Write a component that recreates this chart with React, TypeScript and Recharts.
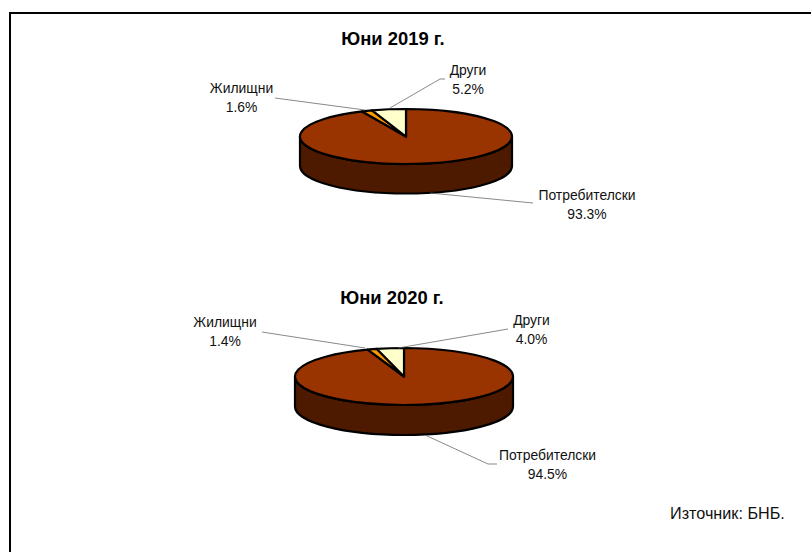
import { PieChart, Pie, Cell } from "recharts";

const categories = ["Потребителски", "Жилищни", "Други"];
const shares2019 = [93.3, 1.6, 5.2];
const shares2020 = [94.5, 1.4, 4.0];
const colors = ["#993300", "#ff9900", "#ffffcc"];

const FONT = "'Liberation Sans', Arial, sans-serif";
const WALL = "#4d1a00";

// label boxes and leader lines, same order as categories
const labels2019 = [
  { x: 587, y: 195, line: "430,193 533,203" },
  { x: 241.5, y: 88, line: "365,110 275,98" },
  { x: 468, y: 70, line: "390,108 440,79 445,79" },
];
const labels2020 = [
  { x: 547.5, y: 455, line: "425,435 488,464 497,464" },
  { x: 225, y: 322, line: "365,348 262,332" },
  { x: 531.5, y: 320, line: "398,348 508,329" },
];

function toRows(values: number[]) {
  return categories.map((name, i) => ({ name, value: values[i] }));
}

function point(cx: number, cy: number, rx: number, ry: number, deg: number) {
  const a = (deg * Math.PI) / 180;
  return [cx + rx * Math.cos(a), cy - ry * Math.sin(a)];
}

// flattened sector with a side wall on the part that faces the viewer
function tiltedSector(ry: number, depth: number) {
  return (props: any) => {
    const { cx, cy, outerRadius: rx, startAngle, endAngle, fill } = props;
    const [sx, sy] = point(cx, cy, rx, ry, startAngle);
    const [ex, ey] = point(cx, cy, rx, ry, endAngle);
    const large = Math.abs(startAngle - endAngle) > 180 ? 1 : 0;
    const from = Math.min(startAngle, 0);
    const to = Math.max(endAngle, -180);
    let wall = null;
    if (from > to) {
      const [ax, ay] = point(cx, cy, rx, ry, from);
      const [bx, by] = point(cx, cy, rx, ry, to);
      wall = (
        <path
          d={`M${ax},${ay} A${rx},${ry} 0 0 1 ${bx},${by} L${bx},${by + depth} A${rx},${ry} 0 0 0 ${ax},${ay + depth} Z`}
          fill={WALL}
          stroke="#000"
          strokeWidth={2.2}
          strokeLinejoin="round"
        />
      );
    }
    return (
      <g>
        {wall}
        <path
          d={`M${cx},${cy} L${sx},${sy} A${rx},${ry} 0 ${large} 1 ${ex},${ey} Z`}
          fill={fill}
          stroke="#000"
          strokeWidth={2.2}
          strokeLinejoin="round"
        />
      </g>
    );
  };
}

function leaderLabel(spots: { x: number; y: number; line: string }[]) {
  return (props: any) => {
    const spot = spots[props.index];
    return (
      <g key={props.index}>
        <polyline points={spot.line} fill="none" stroke="#6b6b6b" strokeWidth={0.8} />
        <text x={spot.x} y={spot.y + 5} textAnchor="middle" fontSize={13.9} fontFamily={FONT} fill="#111">
          {categories[props.index]}
        </text>
        <text x={spot.x} y={spot.y + 23.5} textAnchor="middle" fontSize={13.9} fontFamily={FONT} fill="#111">
          {props.value.toFixed(1)}%
        </text>
      </g>
    );
  };
}

const titleStyle = {
  position: "absolute",
  width: 200,
  textAlign: "center",
  font: `bold 18.4px ${FONT}`,
  color: "#000",
} as const;

export default function App() {
  return (
    <div style={{ position: "absolute", left: 0, top: 0, width: 811, height: 552, overflow: "hidden", background: "#fff" }}>
      <div style={{ position: "absolute", left: 9, top: 12, width: 802, height: 540, borderLeft: "2px solid #000", borderTop: "2px solid #000" }} />
      <PieChart width={811} height={552} margin={{ top: 0, right: 0, bottom: 0, left: 0 }} style={{ position: "absolute", left: 0, top: 0 }}>
        <Pie
          data={toRows(shares2019)}
          dataKey="value"
          nameKey="name"
          cx={406}
          cy={136.5}
          outerRadius={106}
          startAngle={90}
          endAngle={-270}
          isAnimationActive={false}
          shape={tiltedSector(27.5, 29.5)}
          label={leaderLabel(labels2019)}
          labelLine={false}
        >
          {colors.map((c) => (
            <Cell key={c} fill={c} />
          ))}
        </Pie>
        <Pie
          data={toRows(shares2020)}
          dataKey="value"
          nameKey="name"
          cx={404}
          cy={376.5}
          outerRadius={109}
          startAngle={90}
          endAngle={-270}
          isAnimationActive={false}
          shape={tiltedSector(28.5, 30)}
          label={leaderLabel(labels2020)}
          labelLine={false}
        >
          {colors.map((c) => (
            <Cell key={c} fill={c} />
          ))}
        </Pie>
      </PieChart>
      <div style={{ ...titleStyle, left: 293, top: 28 }}>Юни 2019 г.</div>
      <div style={{ ...titleStyle, left: 292, top: 287 }}>Юни 2020 г.</div>
      <div style={{ position: "absolute", left: 670, top: 504, font: `16.2px ${FONT}`, color: "#111" }}>Източник: БНБ.</div>
    </div>
  );
}
